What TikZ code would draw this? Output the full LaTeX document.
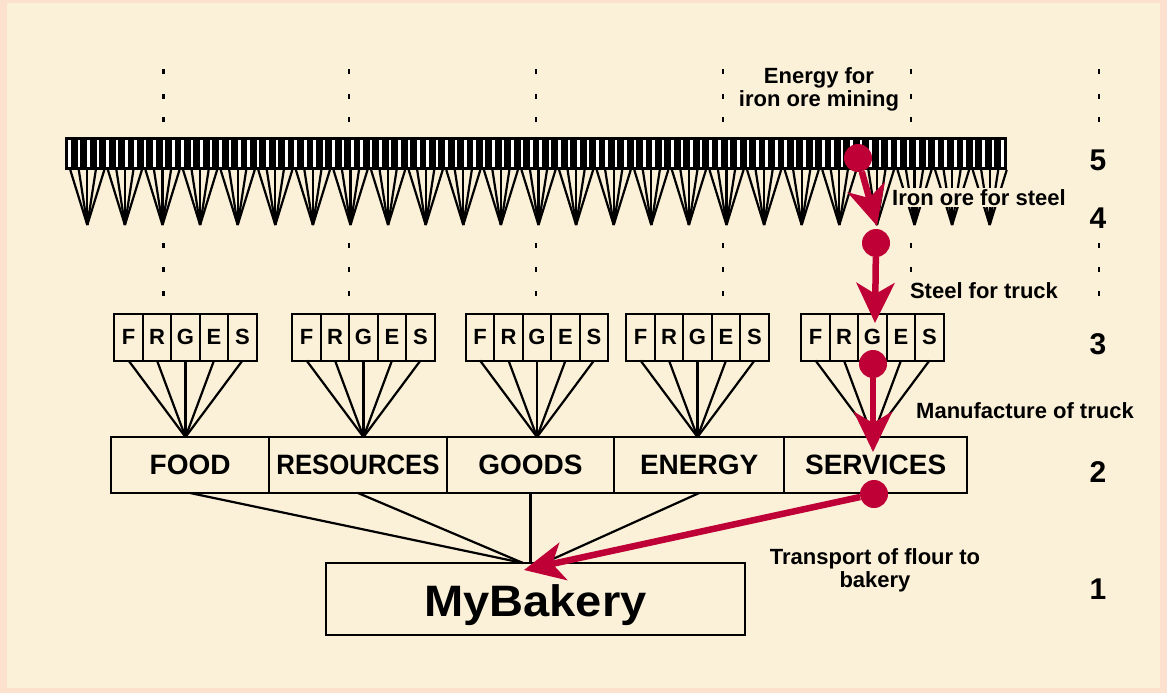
\documentclass[tikz,border=0pt]{standalone}
\usepackage{fontspec}
\usepackage{graphicx}
\setmainfont{Liberation Sans}
\usetikzlibrary{arrows.meta}
\definecolor{cream}{RGB}{251,241,216}
\definecolor{blush}{RGB}{252,226,206}
\definecolor{crimson}{RGB}{190,0,55}
\tikzset{
	fan/.style={line width=2.2pt},
	cell/.style={draw, line width=2pt, minimum width=28.5pt, minimum height=47pt, inner sep=0pt, outer sep=0pt, font=\bfseries\fontsize{22}{24}\selectfont},
	sector/.style={draw, line width=2pt, minimum height=56pt, inner sep=0pt, outer sep=0pt, anchor=west, font=\bfseries\fontsize{28}{30}\selectfont},
	note/.style={align=center, inner sep=0pt, font=\bfseries\fontsize{22}{23.5}\selectfont},
	level/.style={anchor=base, inner sep=0pt, font=\bfseries\fontsize{30}{32}\selectfont},
	reddot/.style={circle, fill=crimson, minimum size=28pt, inner sep=0pt},
	redarrow/.style={crimson, line width=6.5pt, -{Stealth[length=40pt, width=38pt, inset=11pt]}}
}
\begin{document}
\begin{tikzpicture}[x=1pt, y=-1pt]
			\useasboundingbox (0,0) rectangle (1167,693);
			\fill[blush] (0,0) rectangle (1167,693);
			\fill[cream] (7,3) rectangle (1160,688);
			\foreach \x in {163.5, 349, 536, 723, 911, 1099}
			\foreach \y in {72, 96, 119, 245, 269, 293}
			\fill (\x-1.1,\y-2.5) rectangle ++(2.2,5);
			\fill (65,137) rectangle (1007,170);
			\foreach \i in {0,...,99}
			\draw[white, line width=2.6pt] ({65+9.42*(\i+0.5)},140) -- ++(0,27);
			\foreach \k in {0,...,24}
			\foreach \d in {-17,-8.5,0,8.5,17}
			\draw[fan] ({87.3+37.6*\k+\d},170) -- ({87.3+37.6*\k},225);
			\foreach \g/\gx in {1/185.5, 2/363.5, 3/537, 4/697.5, 5/872.5} {
				\coordinate (tip\g) at (\gx,437);
				\foreach \t [count=\n] in {F,R,G,E,S} {
					\node[cell] (c\g\t) at ({\gx+28.5*(\n-3)},337) {\t};
					\draw[fan] (c\g\t.south) -- (tip\g);
				}
			}
			\node[sector, minimum width=158.3pt] (food) at (111,465) {FOOD};
			\node[sector, minimum width=177.4pt] (resources) at (food.east) {\scalebox{0.92}[1]{RESOURCES}};
			\node[sector, minimum width=167.6pt] (goods) at (resources.east) {GOODS};
			\node[sector, minimum width=169.7pt] (energy) at (goods.east) {ENERGY};
			\node[sector, minimum width=183.3pt] (services) at (energy.east) {SERVICES};
			\node[draw, line width=2pt, minimum width=419pt, minimum height=72pt, text height=35pt, text depth=0pt, font=\bfseries\fontsize{44}{46}\selectfont] (bakery) at (535.4,599) {\scalebox{1.07}[1]{MyBakery}};
			\coordinate (inL) at (523,563);
			\coordinate (inR) at (544,563);
			\draw[fan] (food.south) -- (inL);
			\draw[fan] (resources.south) -- (inL);
			\draw[fan] (goods.south) -- (goods.south |- bakery.north);
			\draw[fan] (energy.south) -- (inR);
			\node[note] (energylbl) at (819,89.5) {Energy for\\iron ore mining};
			\node[note, fill=cream, inner sep=1.5pt, anchor=base] (orelbl) at (979,205.7) {Iron ore for steel};
			\node[note, fill=cream, inner sep=1.5pt, anchor=base] (steellbl) at (984,298.8) {Steel for truck};
			\node[note, anchor=base] (trucklbl) at (1025,418.3) {Manufacture of truck};
			\node[note] (flourlbl) at (875,570.5) {Transport of flour to\\bakery};
			\foreach \n/\y in {5/170, 4/228.3, 3/354.3, 2/482.7, 1/599.3}
			\node[level] (lv\n) at (1098,\y) {\n};
			\node[reddot] (d5) at (858,158) {};
			\node[reddot] (d4) at (876,243) {};
			\node[reddot] (d3) at (873,364) {};
			\node[reddot] (d2) at (874,494) {};
			\coordinate (t4) at (877,226);
			\coordinate (t3) at (875,323);
			\coordinate (t2) at (873,452);
			\coordinate (t1) at (524,570);
			\draw[redarrow] (d5) -- (t4);
			\draw[redarrow] (d4) -- (t3);
			\draw[redarrow] (d3) -- (t2);
			\draw[redarrow] (d2) -- (t1);
			\end{tikzpicture}
\end{document}
